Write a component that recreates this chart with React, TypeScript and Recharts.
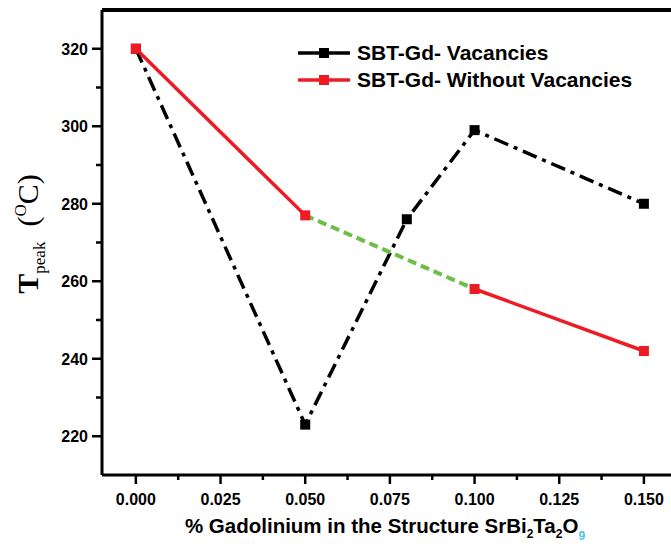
import React from 'react';
import { LineChart, Line, XAxis, YAxis, ReferenceLine } from 'recharts';

// x positions (% Gd) and Tpeak values
const vacX = [0, 0.05, 0.08, 0.1, 0.15];
const vacY = [320, 223, 276, 299, 280];

const noVacX = [0, 0.05, 0.075, 0.1, 0.15];
const noVacY: (number | null)[] = [320, 277, null, 258, 242];

const bridgeX = [0.05, 0.1];
const bridgeY = [277, 258];

const xTicks = [0, 0.0125, 0.025, 0.0375, 0.05, 0.0625, 0.075, 0.0875, 0.1, 0.1125, 0.125, 0.1375, 0.15];
const xMajor = [0, 0.025, 0.05, 0.075, 0.1, 0.125, 0.15];
const yTicks = [220, 230, 240, 250, 260, 270, 280, 290, 300, 310, 320];
const yMajor = [220, 240, 260, 280, 300, 320];

const legendNames = ['SBT-Gd- Vacancies', 'SBT-Gd- Without Vacancies'];

const vacData = vacX.map((x, i) => ({ x, y: vacY[i] }));
const noVacData = noVacX.map((x, i) => ({ x, y: noVacY[i] }));
const bridgeData = bridgeX.map((x, i) => ({ x, y: bridgeY[i] }));

const W = 671;
const H = 547;
const FONT = '"Liberation Sans", Arial, sans-serif';
const RED = '#ed1c24';
const GREEN = '#6cbf45';

const square = (color: string) => (props: any) => {
  const { cx, cy, index } = props;
  if (cx == null || cy == null || props.value == null) return <g key={`d${index}`} />;
  return <rect key={`d${index}`} x={cx - 5} y={cy - 5} width={10} height={10} fill={color} />;
};

const XTick = (props: any) => {
  const { x, y, payload } = props;
  const major = xMajor.some(v => Math.abs(v - payload.value) < 1e-9);
  return (
    <g>
      <line x1={x} x2={x} y1={y} y2={y + (major ? 9 : 5)} stroke="#000" strokeWidth={2.5} />
      {major && (
        <text x={x} y={y + 30} textAnchor="middle" fontFamily={FONT} fontWeight="bold" fontSize={16} fill="#000">
          {payload.value.toFixed(3)}
        </text>
      )}
    </g>
  );
};

const YTick = (props: any) => {
  const { x, y, payload } = props;
  const major = yMajor.includes(payload.value);
  return (
    <g>
      <line x1={x} x2={x - (major ? 10 : 6)} y1={y} y2={y} stroke="#000" strokeWidth={2.5} />
      {major && (
        <text x={x - 14} y={y + 6} textAnchor="end" fontFamily={FONT} fontWeight="bold" fontSize={16} fill="#000">
          {payload.value}
        </text>
      )}
    </g>
  );
};

export default function App() {
  return (
    <div style={{ position: 'absolute', left: 0, top: 0, width: W, height: H, background: '#fff', overflow: 'hidden' }}>
      <LineChart width={W} height={H} margin={{ top: 10, right: 0, left: 42, bottom: 42 }}>
        <XAxis
          dataKey="x"
          type="number"
          domain={[-0.01, 0.158]}
          ticks={xTicks}
          interval={0}
          allowDataOverflow
          height={30}
          tickSize={0}
          tickMargin={0}
          tickLine={false}
          axisLine={{ stroke: '#000', strokeWidth: 3 }}
          tick={<XTick />}
        />
        <YAxis
          type="number"
          domain={[210, 330]}
          ticks={yTicks}
          interval={0}
          allowDataOverflow
          width={60}
          tickSize={0}
          tickMargin={0}
          tickLine={false}
          axisLine={{ stroke: '#000', strokeWidth: 3 }}
          tick={<YTick />}
        />
        <ReferenceLine y={330} stroke="#000" strokeWidth={4} ifOverflow="visible" />
        <Line
          data={vacData}
          dataKey="y"
          stroke="#000"
          strokeWidth={3.5}
          strokeDasharray="15 6 4 6"
          dot={square('#000')}
          isAnimationActive={false}
        />
        <Line
          data={bridgeData}
          dataKey="y"
          stroke={GREEN}
          strokeWidth={4}
          strokeDasharray="9 5"
          dot={false}
          isAnimationActive={false}
        />
        <Line
          data={noVacData}
          dataKey="y"
          stroke={RED}
          strokeWidth={3.5}
          connectNulls={false}
          dot={square(RED)}
          isAnimationActive={false}
        />
      </LineChart>
      <svg width={W} height={H} style={{ position: 'absolute', left: 0, top: 0, pointerEvents: 'none' }}>
        {legendNames.map((name, i) => {
          const cy = 53 + i * 27;
          const c = i === 0 ? '#000' : RED;
          return (
            <g key={name}>
              <line x1={298} x2={350} y1={cy} y2={cy} stroke={c} strokeWidth={3.5} />
              <rect x={319} y={cy - 5} width={10} height={10} fill={c} />
              <text x={357} y={cy + 7} fontFamily={FONT} fontWeight="bold" fontSize={21} fill="#000">
                {name}
              </text>
            </g>
          );
        })}
        <text x={385} y={533} textAnchor="middle" fontFamily={FONT} fontWeight="bold" fontSize={20.5} fill="#000">
          % Gadolinium in the Structure SrBi
          <tspan fontSize={12} dy={5}>2</tspan>
          <tspan dy={-5}>Ta</tspan>
          <tspan fontSize={12} dy={5}>2</tspan>
          <tspan dy={-5}>O</tspan>
          <tspan fontSize={12} dy={7} fill="#4fc3e8">9</tspan>
        </text>
        <text
          transform="translate(38,234) rotate(-90)"
          textAnchor="middle"
          fontFamily='"Liberation Serif", "Times New Roman", serif'
          fill="#000"
        >
          <tspan fontSize={30} fontWeight="bold">T</tspan>
          <tspan fontSize={17} dy={7}>peak</tspan>
          <tspan fontSize={30} dy={-7}>{'\u00a0\u00a0('}</tspan>
          <tspan fontSize={17} dy={-12}>O</tspan>
          <tspan fontSize={30} dy={12}>C)</tspan>
        </text>
      </svg>
    </div>
  );
}
